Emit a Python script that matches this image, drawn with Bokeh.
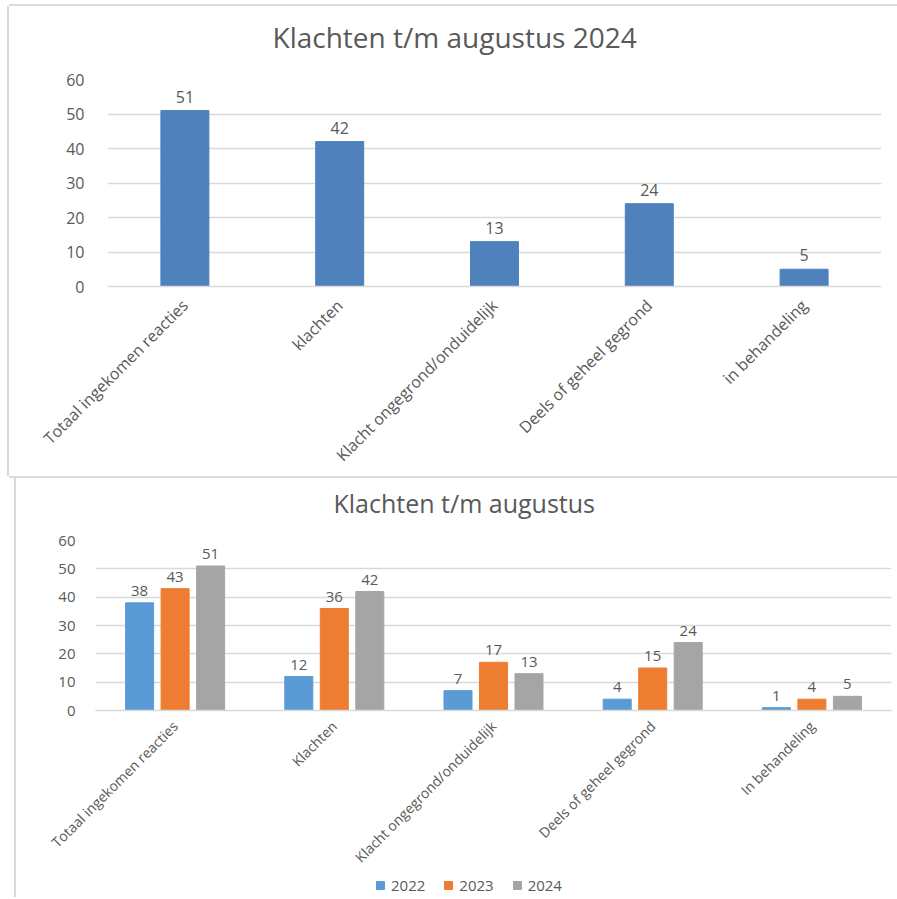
from math import pi
from bokeh.plotting import figure
from bokeh.models import ColumnDataSource, LabelSet, Legend, LegendItem, Spacer, Title
from bokeh.core.properties import value
from bokeh.transform import dodge
from bokeh.layouts import column, row
from bokeh.embed import file_html
from bokeh.resources import INLINE

# ---- data ----
categories_top = ["Totaal ingekomen reacties", "klachten", "Klacht ongegrond/onduidelijk",
                  "Deels of geheel gegrond", "in behandeling"]
values_top_2024 = [51, 42, 13, 24, 5]

categories_bottom = ["Totaal ingekomen reacties", "Klachten", "Klacht ongegrond/onduidelijk",
                     "Deels of geheel gegrond", "In behandeling"]
years = ["2022", "2023", "2024"]
values_2022 = [38, 12, 7, 4, 1]
values_2023 = [43, 36, 17, 15, 4]
values_2024 = [51, 42, 13, 24, 5]
y_ticks = [0, 10, 20, 30, 40, 50, 60]

title_top = "Klachten t/m augustus 2024"
title_bottom = "Klachten t/m augustus"

FONT = "Open Sans"
TEXT = "#595959"
GRID = "#d9d9d9"
BLUE_TOP = "#4f81bd"
COLORS = ["#5b9bd5", "#ed7d31", "#a5a5a5"]


def style(p, tick_size, xlabel_size, title_size, gap):
    p.title.align = "left"
    p.title.text_font = FONT
    p.title.text_font_size = title_size
    p.title.text_font_style = "normal"
    p.title.text_color = TEXT
    # blank spacer between title and plot area
    p.add_layout(Title(text=" ", text_font_size=gap, standoff=0), "above")
    p.outline_line_color = None
    p.xgrid.grid_line_color = None
    p.ygrid.grid_line_color = GRID
    p.ygrid.grid_line_width = 1.5
    p.yaxis.ticker = y_ticks
    p.yaxis.axis_line_color = None
    p.yaxis.major_tick_line_color = None
    p.yaxis.minor_tick_line_color = None
    p.yaxis.major_label_text_font = FONT
    p.yaxis.major_label_text_font_size = tick_size
    p.yaxis.major_label_text_color = TEXT
    p.xaxis.axis_line_color = GRID
    p.xaxis.axis_line_width = 1.5
    p.xaxis.major_tick_line_color = None
    p.xaxis.minor_tick_line_color = None
    p.xaxis.major_label_orientation = pi / 4
    p.xaxis.major_label_text_font = FONT
    p.xaxis.major_label_text_font_size = xlabel_size
    p.xaxis.major_label_text_color = TEXT


# ---- top chart ----
src_top = ColumnDataSource(dict(cat=categories_top, val=values_top_2024,
                                lab=[str(v) for v in values_top_2024]))
p1 = figure(x_range=categories_top, y_range=(0, 60), width=888, height=470,
            output_backend="svg", toolbar_location=None, title=title_top,
            min_border_left=98, min_border_right=16, min_border_top=73, min_border_bottom=189,
            styles={"box-shadow": "-2px 0 0 0 #d9d9d9, 0 -2px 0 0 #d9d9d9, 0 2px 0 0 #d9d9d9"})
style(p1, "16px", "16px", "28px", "16px")
p1.title.offset = 165
p1.yaxis.major_label_standoff = 17
p1.xaxis.major_label_standoff = 10
p1.vbar(x="cat", top="val", width=0.31, source=src_top, fill_color=BLUE_TOP, line_color=BLUE_TOP)
p1.add_layout(LabelSet(x="cat", y="val", text="lab", source=src_top, y_offset=8,
                       text_align="center", text_baseline="bottom", text_font=value(FONT),
                       text_font_size=value("16px"), text_color=TEXT))

# ---- bottom chart ----
src_bot = ColumnDataSource(dict(cat=categories_bottom,
                                v2022=values_2022, v2023=values_2023, v2024=values_2024,
                                l2022=[str(v) for v in values_2022],
                                l2023=[str(v) for v in values_2023],
                                l2024=[str(v) for v in values_2024]))
p2 = figure(x_range=categories_bottom, y_range=(0, 60), width=881, height=397,
            output_backend="svg", toolbar_location=None, title=title_bottom,
            min_border_left=79, min_border_right=6, min_border_top=60, min_border_bottom=165,
            styles={"box-shadow": "-2px 0 0 0 #d9d9d9"})
style(p2, "15px", "14px", "25px", "12px")
p2.title.offset = 238
p2.yaxis.major_label_standoff = 14
p2.xaxis.major_label_standoff = 7

offsets = [-0.223, 0.0, 0.223]
for yr, off, col in zip(years, offsets, COLORS):
    p2.vbar(x=dodge("cat", off, range=p2.x_range), top="v" + yr, width=0.176,
            source=src_bot, fill_color=col, line_color=col)
    p2.add_layout(LabelSet(x=dodge("cat", off, range=p2.x_range), y="v" + yr, text="l" + yr,
                           source=src_bot, y_offset=7, text_align="center",
                           text_baseline="bottom", text_font=value(FONT),
                           text_font_size=value("15px"), text_color=TEXT))

# ---- legend strip (legend of the bottom chart) ----
p3 = figure(x_range=categories_bottom, y_range=(0, 60), width=881, height=22,
            output_backend="svg", toolbar_location=None,
            x_axis_type=None, y_axis_type=None, min_border=0,
            styles={"box-shadow": "-2px 0 0 0 #d9d9d9"})
p3.outline_line_color = None
p3.grid.visible = False
items = []
for yr, col in zip(years, COLORS):
    r = p3.vbar(x="cat", top="v" + yr, width=0.5, source=src_bot,
                fill_color=col, line_color=col, visible=False)
    items.append(LegendItem(label=yr, renderers=[r]))
legend = Legend(items=items, orientation="horizontal", location=(359, 2),
                label_text_font=FONT, label_text_font_size="15px", label_text_color=TEXT,
                glyph_width=10, glyph_height=10, spacing=18, label_standoff=6,
                border_line_color=None, background_fill_alpha=0, margin=0, padding=0,
                inactive_fill_alpha=0)
p3.add_layout(legend, "center")

layout = column(Spacer(height=6),
                row(Spacer(width=9), p1),
                Spacer(height=2),
                row(Spacer(width=16), p2),
                row(Spacer(width=16), p3))
open("out.html", "w").write(file_html(layout, INLINE))
